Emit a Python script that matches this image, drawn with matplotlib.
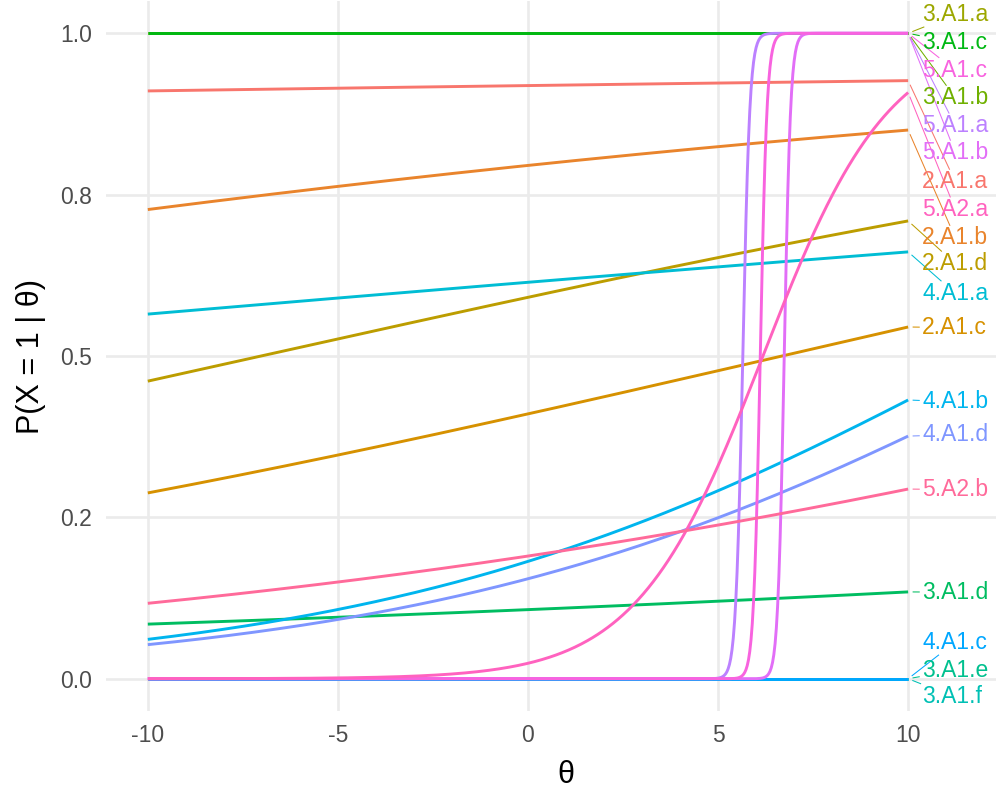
import numpy as np
import matplotlib
matplotlib.use('Agg')
import matplotlib.pyplot as plt

# item parameters (2PL)
items = ['2.A1.a', '2.A1.b', '2.A1.c', '2.A1.d', '3.A1.a', '3.A1.b', '3.A1.c',
         '3.A1.d', '3.A1.e', '3.A1.f', '4.A1.a', '4.A1.b', '4.A1.c', '4.A1.d',
         '5.A1.a', '5.A1.b', '5.A1.c', '5.A2.a', '5.A2.b']
discrimination = [0.0107, 0.0378, 0.0543, 0.0524, 1.0, 1.0, 1.0,
                  0.0260, 1.0, 1.0, 0.0204, 0.123, 1.0, 0.119,
                  10.8, 11.9, 11.3, 0.60, 0.0573]
difficulty = [-227.0, -35.9, 6.68, -7.02, -60.0, -60.0, -60.0,
              81.6, 60.0, 60.0, -22.8, 12.23, 60.0, 14.26,
              5.65, 6.74, 6.11, 6.18, 25.3]

x_ticks = [-10, -5, 0, 5, 10]
y_ticks = [0.0, 0.25, 0.5, 0.75, 1.0]
y_tick_labels = ['0.0', '0.2', '0.5', '0.8', '1.0']

# where the repelled labels ended up (layout)
label_x = 10.37
label_y = {'3.A1.a': 1.029, '3.A1.c': 0.985, '5.A1.c': 0.943, '3.A1.b': 0.900,
           '5.A1.a': 0.857, '5.A1.b': 0.815, '2.A1.a': 0.770, '5.A2.a': 0.727,
           '2.A1.b': 0.683, '2.A1.d': 0.643, '4.A1.a': 0.597, '2.A1.c': 0.544,
           '4.A1.b': 0.429, '4.A1.d': 0.378, '5.A2.b': 0.293, '3.A1.d': 0.134,
           '4.A1.c': 0.056, '3.A1.e': 0.013, '3.A1.f': -0.027}


def hcl_hex(h, c=100.0, l=65.0):
    # polar Luv -> sRGB, same as R's hcl()
    hr = np.radians(h)
    u, v = c * np.cos(hr), c * np.sin(hr)
    Y = ((l + 16) / 116) ** 3
    un, vn = 0.1978398, 0.4683363
    up = u / (13 * l) + un
    vp = v / (13 * l) + vn
    X = Y * 9 * up / (4 * vp)
    Z = Y * (12 - 3 * up - 20 * vp) / (4 * vp)
    rgb = np.array([3.2404542 * X - 1.5371385 * Y - 0.4985314 * Z,
                    -0.9692660 * X + 1.8760108 * Y + 0.0415560 * Z,
                    0.0556434 * X - 0.2040259 * Y + 1.0572252 * Z])
    rgb = np.where(rgb <= 0.0031308, 12.92 * rgb, 1.055 * np.abs(rgb) ** (1 / 2.4) - 0.055)
    rgb = np.clip(rgb, 0, 1)
    return '#%02x%02x%02x' % tuple(int(round(x * 255)) for x in rgb)


n = len(items)
hues = np.linspace(15, 375, n + 1)[:-1]
colors = [hcl_hex(h) for h in hues]

plt.rcParams['font.family'] = ['Liberation Sans', 'DejaVu Sans']

W, H = 996, 795
fig = plt.figure(figsize=(W / 100, H / 100), dpi=100)
ax = fig.add_axes([106 / W, 84 / H, 920 / W, 710 / H])

theta = np.linspace(-10, 10, 601)
for name, a, b, col in zip(items, discrimination, difficulty, colors):
    p = 1 / (1 + np.exp(-a * (theta - b)))
    ax.plot(theta, p, color=col, lw=2.1, solid_capstyle='butt')

ax.set_xlim(-11.1, 13.1)
ax.set_ylim(-0.05, 1.05)
ax.set_xticks(x_ticks)
ax.set_xticklabels([str(t) for t in x_ticks])
ax.set_yticks(y_ticks)
ax.set_yticklabels(y_tick_labels)
ax.grid(True, color='#EBEBEB', lw=1.9)
ax.set_axisbelow(True)
for s in ax.spines.values():
    s.set_visible(False)
ax.tick_params(length=0, labelsize=16.5, labelcolor='#4D4D4D')
ax.tick_params(axis='x', pad=9)
ax.tick_params(axis='y', pad=10)
ax.set_xlabel('θ', fontsize=22, labelpad=10)
ax.set_ylabel('P(X = 1 | θ)', fontsize=22, labelpad=10)

# labels with leader segments, ggrepel style
texts = {}
for name, col in zip(items, colors):
    texts[name] = ax.text(label_x, label_y[name], name, color=col, fontsize=16.5,
                          ha='left', va='center', clip_on=False)

fig.canvas.draw()
renderer = fig.canvas.get_renderer()
inv = ax.transData.inverted()
for name, a, b, col in zip(items, discrimination, difficulty, colors):
    bb = texts[name].get_window_extent(renderer)
    cx, cy = (bb.x0 + bb.x1) / 2, (bb.y0 + bb.y1) / 2
    hw, hh = bb.width / 2 + 3, bb.height / 2 + 1
    p_end = 1 / (1 + np.exp(-a * (10 - b)))
    px, py = ax.transData.transform((10, p_end))
    dx, dy = cx - px, cy - py
    dist = np.hypot(dx, dy)
    s = min(hw / abs(dx) if dx else np.inf, hh / abs(dy) if dy else np.inf)
    ex, ey = cx - s * dx, cy - s * dy
    sx, sy = px + 5 * dx / dist, py + 5 * dy / dist
    if np.hypot(ex - px, ey - py) > 6:
        (x0, y0), (x1, y1) = inv.transform([(sx, sy), (ex, ey)])
        ax.plot([x0, x1], [y0, y1], color=col, lw=0.75, clip_on=False)

fig.savefig('out.png', dpi=100)
